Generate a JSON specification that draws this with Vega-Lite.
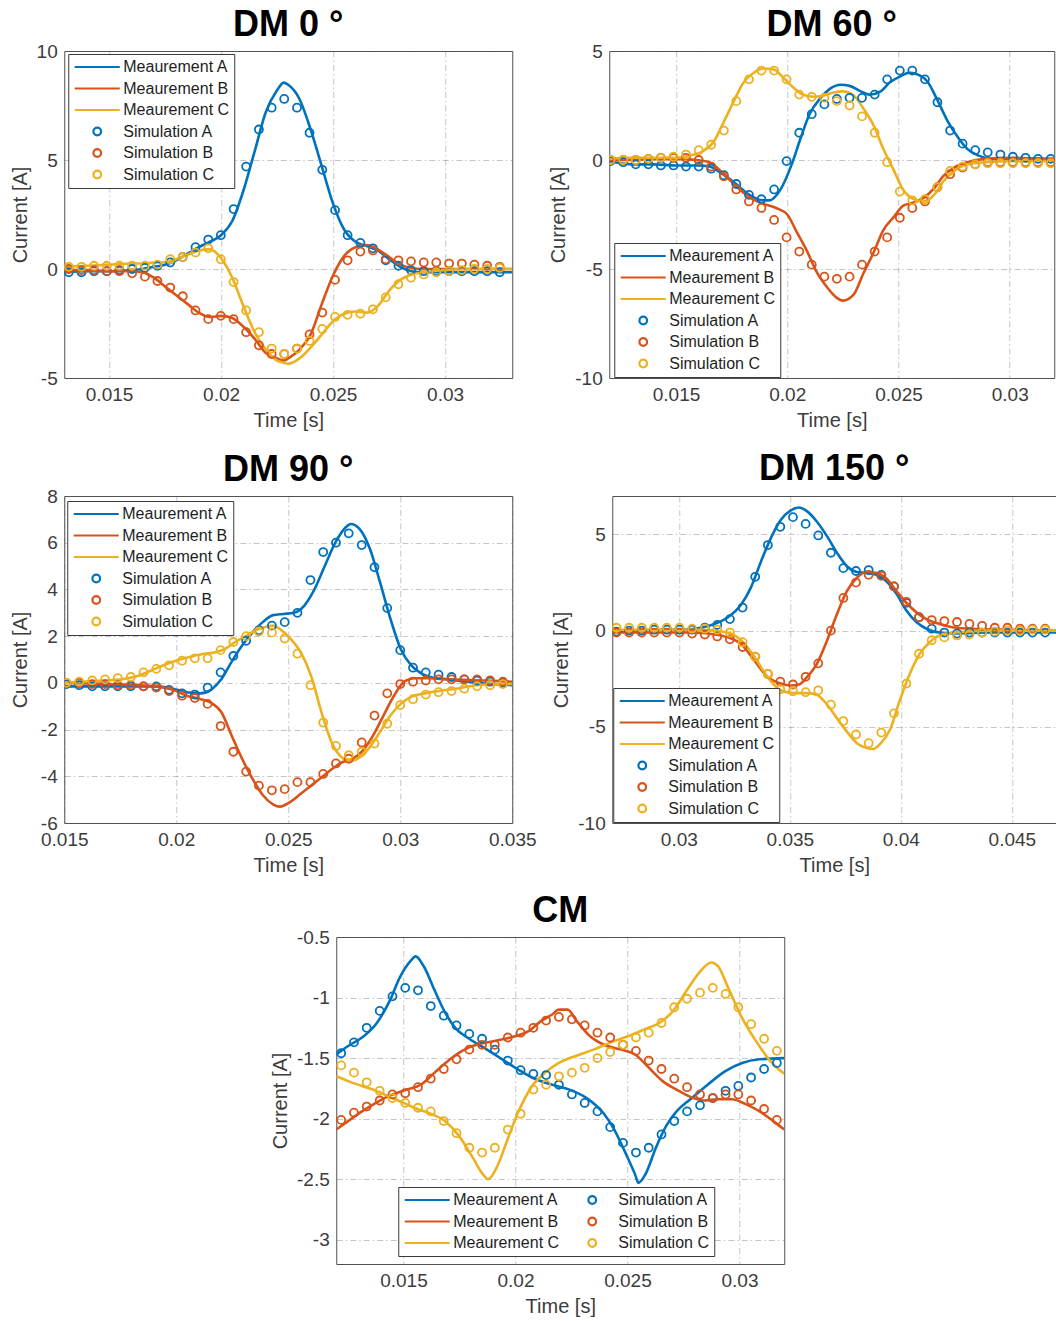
{
"$schema": "https://vega.github.io/schema/vega-lite/v6.json",
"background": "white",
"padding": {"left": 9, "top": 6, "right": 0, "bottom": 0},
"config": {
  "font": "Liberation Sans",
  "view": {"stroke": "#505050", "strokeWidth": 1},
  "axis": {"grid": true, "gridColor": "#5a5a5a", "gridOpacity": 0.35, "gridDash": [6,3,1.5,3], "gridWidth": 1,
    "domain": false, "ticks": false,
    "labelFont": "Liberation Sans", "labelFontSize": 19, "labelColor": "#3c3c3c", "labelPadding": 7,
    "labelFlush": false, "labelOverlap": false, "labelBound": false,
    "titleFont": "Liberation Sans", "titleFontSize": 20, "titleFontWeight": "normal", "titleColor": "#3c3c3c", "titlePadding": 6},
  "axisY": {"minExtent": 28},
  "title": {"font": "Liberation Sans", "fontSize": 36, "fontWeight": "bold", "color": "#000000", "anchor": "middle", "frame": "group", "offset": -2},
  "legend": {"labelFont": "Liberation Sans", "labelFontSize": 16, "labelColor": "#1e1e1e", "fillColor": "#ffffff", "strokeColor": "#3a3a3a", "padding": 5, "rowPadding": 5.5, "columnPadding": 9, "labelOffset": 2, "symbolSize": 2025, "symbolStrokeWidth": 2.2, "clipHeight": 16, "symbolOffset": 0}
},
"datasets": {
"m1": [
{"s":"MA","t":0.013,"v":-0.15},{"s":"MA","t":0.014,"v":-0.1},{"s":"MA","t":0.015,"v":-0.1},{"s":"MA","t":0.016,"v":-0.05},{"s":"MA","t":0.0165,"v":0},{"s":"MA","t":0.017,"v":0.1},{"s":"MA","t":0.0175,"v":0.2},{"s":"MA","t":0.018,"v":0.4},{"s":"MA","t":0.0185,"v":0.7},{"s":"MA","t":0.019,"v":1.0},{"s":"MA","t":0.0195,"v":1.25},{"s":"MA","t":0.02,"v":1.55},{"s":"MA","t":0.0205,"v":2.2},{"s":"MA","t":0.021,"v":3.6},{"s":"MA","t":0.0215,"v":5.4},{"s":"MA","t":0.022,"v":7.2},{"s":"MA","t":0.0225,"v":8.2},{"s":"MA","t":0.0228,"v":8.55},{"s":"MA","t":0.023,"v":8.45},{"s":"MA","t":0.0235,"v":7.8},{"s":"MA","t":0.024,"v":6.4},{"s":"MA","t":0.0245,"v":4.7},{"s":"MA","t":0.025,"v":3.0},{"s":"MA","t":0.0255,"v":1.8},{"s":"MA","t":0.026,"v":1.25},{"s":"MA","t":0.0265,"v":1.05},{"s":"MA","t":0.027,"v":0.85},{"s":"MA","t":0.0275,"v":0.45},{"s":"MA","t":0.028,"v":0.1},{"s":"MA","t":0.0285,"v":-0.1},{"s":"MA","t":0.029,"v":-0.15},{"s":"MA","t":0.03,"v":-0.15},{"s":"MA","t":0.031,"v":-0.15},{"s":"MA","t":0.032,"v":-0.15},{"s":"MA","t":0.033,"v":-0.15},
{"s":"MB","t":0.013,"v":-0.05},{"s":"MB","t":0.014,"v":-0.05},{"s":"MB","t":0.015,"v":-0.1},{"s":"MB","t":0.016,"v":-0.1},{"s":"MB","t":0.0165,"v":-0.15},{"s":"MB","t":0.017,"v":-0.4},{"s":"MB","t":0.0175,"v":-0.8},{"s":"MB","t":0.018,"v":-1.2},{"s":"MB","t":0.0185,"v":-1.6},{"s":"MB","t":0.019,"v":-2.0},{"s":"MB","t":0.0195,"v":-2.2},{"s":"MB","t":0.02,"v":-2.15},{"s":"MB","t":0.0205,"v":-2.25},{"s":"MB","t":0.021,"v":-2.65},{"s":"MB","t":0.0215,"v":-3.2},{"s":"MB","t":0.022,"v":-3.85},{"s":"MB","t":0.0225,"v":-4.1},{"s":"MB","t":0.0228,"v":-4.2},{"s":"MB","t":0.023,"v":-4.1},{"s":"MB","t":0.0235,"v":-3.7},{"s":"MB","t":0.024,"v":-3.0},{"s":"MB","t":0.0245,"v":-1.6},{"s":"MB","t":0.025,"v":-0.3},{"s":"MB","t":0.0255,"v":0.6},{"s":"MB","t":0.026,"v":1.0},{"s":"MB","t":0.0265,"v":1.1},{"s":"MB","t":0.027,"v":0.9},{"s":"MB","t":0.0275,"v":0.55},{"s":"MB","t":0.028,"v":0.2},{"s":"MB","t":0.0285,"v":0.05},{"s":"MB","t":0.029,"v":0},{"s":"MB","t":0.03,"v":0},{"s":"MB","t":0.031,"v":0},{"s":"MB","t":0.032,"v":0},{"s":"MB","t":0.033,"v":0},
{"s":"MC","t":0.013,"v":0.1},{"s":"MC","t":0.014,"v":0.15},{"s":"MC","t":0.015,"v":0.2},{"s":"MC","t":0.016,"v":0.25},{"s":"MC","t":0.0165,"v":0.25},{"s":"MC","t":0.017,"v":0.3},{"s":"MC","t":0.0175,"v":0.3},{"s":"MC","t":0.018,"v":0.45},{"s":"MC","t":0.0185,"v":0.65},{"s":"MC","t":0.019,"v":0.85},{"s":"MC","t":0.0195,"v":0.9},{"s":"MC","t":0.02,"v":0.5},{"s":"MC","t":0.0205,"v":-0.4},{"s":"MC","t":0.021,"v":-1.7},{"s":"MC","t":0.0215,"v":-2.9},{"s":"MC","t":0.022,"v":-3.7},{"s":"MC","t":0.0225,"v":-4.2},{"s":"MC","t":0.0228,"v":-4.3},{"s":"MC","t":0.023,"v":-4.35},{"s":"MC","t":0.0235,"v":-4.1},{"s":"MC","t":0.024,"v":-3.6},{"s":"MC","t":0.0245,"v":-3.0},{"s":"MC","t":0.025,"v":-2.4},{"s":"MC","t":0.0255,"v":-2.05},{"s":"MC","t":0.026,"v":-1.95},{"s":"MC","t":0.0265,"v":-2.0},{"s":"MC","t":0.027,"v":-1.7},{"s":"MC","t":0.0275,"v":-1.0},{"s":"MC","t":0.028,"v":-0.5},{"s":"MC","t":0.0285,"v":-0.25},{"s":"MC","t":0.029,"v":-0.15},{"s":"MC","t":0.03,"v":-0.05},{"s":"MC","t":0.031,"v":0},{"s":"MC","t":0.032,"v":0},{"s":"MC","t":0.033,"v":0}
],
"s1": [
{"s":"SA","t":0.0132,"v":-0.15},{"s":"SA","t":0.01377,"v":-0.15},{"s":"SA","t":0.01433,"v":-0.1},{"s":"SA","t":0.0149,"v":-0.1},{"s":"SA","t":0.01546,"v":-0.05},{"s":"SA","t":0.01603,"v":0},{"s":"SA","t":0.0166,"v":0.05},{"s":"SA","t":0.01716,"v":0.15},{"s":"SA","t":0.01773,"v":0.3},{"s":"SA","t":0.01829,"v":0.55},{"s":"SA","t":0.01886,"v":1.0},{"s":"SA","t":0.01943,"v":1.35},{"s":"SA","t":0.01999,"v":1.55},{"s":"SA","t":0.02056,"v":2.75},{"s":"SA","t":0.02112,"v":4.7},{"s":"SA","t":0.02169,"v":6.4},{"s":"SA","t":0.02226,"v":7.4},{"s":"SA","t":0.02282,"v":7.8},{"s":"SA","t":0.02339,"v":7.4},{"s":"SA","t":0.02395,"v":6.25},{"s":"SA","t":0.02452,"v":4.55},{"s":"SA","t":0.02509,"v":2.7},{"s":"SA","t":0.02565,"v":1.55},{"s":"SA","t":0.02622,"v":1.2},{"s":"SA","t":0.02678,"v":0.95},{"s":"SA","t":0.02735,"v":0.4},{"s":"SA","t":0.02792,"v":0.15},{"s":"SA","t":0.02848,"v":-0.05},{"s":"SA","t":0.02905,"v":-0.1},{"s":"SA","t":0.02961,"v":-0.1},{"s":"SA","t":0.03018,"v":-0.1},{"s":"SA","t":0.03075,"v":-0.1},{"s":"SA","t":0.03131,"v":-0.1},{"s":"SA","t":0.03188,"v":-0.1},{"s":"SA","t":0.03244,"v":-0.15},
{"s":"SB","t":0.0132,"v":0},{"s":"SB","t":0.01377,"v":-0.05},{"s":"SB","t":0.01433,"v":-0.05},{"s":"SB","t":0.0149,"v":-0.1},{"s":"SB","t":0.01546,"v":-0.1},{"s":"SB","t":0.01603,"v":-0.2},{"s":"SB","t":0.0166,"v":-0.35},{"s":"SB","t":0.01716,"v":-0.55},{"s":"SB","t":0.01773,"v":-0.85},{"s":"SB","t":0.01829,"v":-1.25},{"s":"SB","t":0.01886,"v":-1.9},{"s":"SB","t":0.01943,"v":-2.3},{"s":"SB","t":0.01999,"v":-2.15},{"s":"SB","t":0.02056,"v":-2.3},{"s":"SB","t":0.02112,"v":-2.9},{"s":"SB","t":0.02169,"v":-3.5},{"s":"SB","t":0.02226,"v":-3.9},{"s":"SB","t":0.02282,"v":-3.9},{"s":"SB","t":0.02339,"v":-3.65},{"s":"SB","t":0.02395,"v":-3.0},{"s":"SB","t":0.02452,"v":-2.0},{"s":"SB","t":0.02509,"v":-0.5},{"s":"SB","t":0.02565,"v":0.4},{"s":"SB","t":0.02622,"v":0.8},{"s":"SB","t":0.02678,"v":0.85},{"s":"SB","t":0.02735,"v":0.45},{"s":"SB","t":0.02792,"v":0.4},{"s":"SB","t":0.02848,"v":0.35},{"s":"SB","t":0.02905,"v":0.3},{"s":"SB","t":0.02961,"v":0.3},{"s":"SB","t":0.03018,"v":0.25},{"s":"SB","t":0.03075,"v":0.25},{"s":"SB","t":0.03131,"v":0.2},{"s":"SB","t":0.03188,"v":0.15},{"s":"SB","t":0.03244,"v":0.1},
{"s":"SC","t":0.0132,"v":0.1},{"s":"SC","t":0.01377,"v":0.1},{"s":"SC","t":0.01433,"v":0.15},{"s":"SC","t":0.0149,"v":0.15},{"s":"SC","t":0.01546,"v":0.15},{"s":"SC","t":0.01603,"v":0.15},{"s":"SC","t":0.0166,"v":0.15},{"s":"SC","t":0.01716,"v":0.2},{"s":"SC","t":0.01773,"v":0.45},{"s":"SC","t":0.01829,"v":0.55},{"s":"SC","t":0.01886,"v":0.75},{"s":"SC","t":0.01943,"v":0.95},{"s":"SC","t":0.01999,"v":0.45},{"s":"SC","t":0.02056,"v":-0.6},{"s":"SC","t":0.02112,"v":-1.9},{"s":"SC","t":0.02169,"v":-2.9},{"s":"SC","t":0.02226,"v":-3.65},{"s":"SC","t":0.02282,"v":-3.9},{"s":"SC","t":0.02339,"v":-3.65},{"s":"SC","t":0.02395,"v":-3.3},{"s":"SC","t":0.02452,"v":-2.75},{"s":"SC","t":0.02509,"v":-2.2},{"s":"SC","t":0.02565,"v":-2.1},{"s":"SC","t":0.02622,"v":-2.05},{"s":"SC","t":0.02678,"v":-1.85},{"s":"SC","t":0.02735,"v":-1.3},{"s":"SC","t":0.02792,"v":-0.7},{"s":"SC","t":0.02848,"v":-0.4},{"s":"SC","t":0.02905,"v":-0.25},{"s":"SC","t":0.02961,"v":-0.15},{"s":"SC","t":0.03018,"v":-0.1},{"s":"SC","t":0.03075,"v":-0.05},{"s":"SC","t":0.03131,"v":0},{"s":"SC","t":0.03188,"v":0},{"s":"SC","t":0.03244,"v":0.05}
],
"m2": [
{"s":"MA","t":0.012,"v":-0.05},{"s":"MA","t":0.013,"v":-0.2},{"s":"MA","t":0.014,"v":-0.2},{"s":"MA","t":0.015,"v":-0.25},{"s":"MA","t":0.016,"v":-0.25},{"s":"MA","t":0.0165,"v":-0.3},{"s":"MA","t":0.0171,"v":-0.65},{"s":"MA","t":0.0177,"v":-1.1},{"s":"MA","t":0.0183,"v":-1.6},{"s":"MA","t":0.0189,"v":-1.85},{"s":"MA","t":0.0192,"v":-1.85},{"s":"MA","t":0.0197,"v":-1.35},{"s":"MA","t":0.0202,"v":-0.2},{"s":"MA","t":0.0206,"v":1.0},{"s":"MA","t":0.021,"v":2.1},{"s":"MA","t":0.0215,"v":2.85},{"s":"MA","t":0.0219,"v":3.25},{"s":"MA","t":0.0224,"v":3.45},{"s":"MA","t":0.0228,"v":3.4},{"s":"MA","t":0.0233,"v":3.15},{"s":"MA","t":0.0237,"v":3.0},{"s":"MA","t":0.0242,"v":3.15},{"s":"MA","t":0.0246,"v":3.55},{"s":"MA","t":0.0251,"v":3.85},{"s":"MA","t":0.0255,"v":4.0},{"s":"MA","t":0.0258,"v":3.95},{"s":"MA","t":0.0263,"v":3.6},{"s":"MA","t":0.0267,"v":2.85},{"s":"MA","t":0.0272,"v":1.8},{"s":"MA","t":0.0277,"v":1.0},{"s":"MA","t":0.0281,"v":0.5},{"s":"MA","t":0.0286,"v":0.2},{"s":"MA","t":0.0292,"v":0.05},{"s":"MA","t":0.03,"v":0},{"s":"MA","t":0.031,"v":0},{"s":"MA","t":0.032,"v":0},
{"s":"MB","t":0.012,"v":0},{"s":"MB","t":0.013,"v":0},{"s":"MB","t":0.014,"v":0.05},{"s":"MB","t":0.015,"v":0.05},{"s":"MB","t":0.0159,"v":0},{"s":"MB","t":0.0165,"v":-0.1},{"s":"MB","t":0.0171,"v":-0.6},{"s":"MB","t":0.0177,"v":-1.2},{"s":"MB","t":0.0183,"v":-1.7},{"s":"MB","t":0.0189,"v":-2.0},{"s":"MB","t":0.0195,"v":-2.2},{"s":"MB","t":0.02,"v":-2.5},{"s":"MB","t":0.0204,"v":-3.25},{"s":"MB","t":0.0209,"v":-4.2},{"s":"MB","t":0.0213,"v":-5.1},{"s":"MB","t":0.0218,"v":-5.85},{"s":"MB","t":0.0222,"v":-6.3},{"s":"MB","t":0.0225,"v":-6.45},{"s":"MB","t":0.023,"v":-6.15},{"s":"MB","t":0.0234,"v":-5.25},{"s":"MB","t":0.0239,"v":-4.2},{"s":"MB","t":0.0243,"v":-3.25},{"s":"MB","t":0.0248,"v":-2.6},{"s":"MB","t":0.0252,"v":-2.1},{"s":"MB","t":0.0257,"v":-1.95},{"s":"MB","t":0.0261,"v":-1.75},{"s":"MB","t":0.0266,"v":-1.3},{"s":"MB","t":0.027,"v":-0.75},{"s":"MB","t":0.0275,"v":-0.35},{"s":"MB","t":0.0281,"v":-0.1},{"s":"MB","t":0.0289,"v":0.05},{"s":"MB","t":0.03,"v":0.1},{"s":"MB","t":0.032,"v":0.05},
{"s":"MC","t":0.012,"v":0.05},{"s":"MC","t":0.013,"v":0.1},{"s":"MC","t":0.014,"v":0.1},{"s":"MC","t":0.015,"v":0.1},{"s":"MC","t":0.0156,"v":0.2},{"s":"MC","t":0.0162,"v":0.4},{"s":"MC","t":0.0167,"v":0.85},{"s":"MC","t":0.0171,"v":1.65},{"s":"MC","t":0.0176,"v":2.7},{"s":"MC","t":0.018,"v":3.5},{"s":"MC","t":0.0185,"v":4.0},{"s":"MC","t":0.0189,"v":4.2},{"s":"MC","t":0.0194,"v":4.15},{"s":"MC","t":0.0198,"v":3.8},{"s":"MC","t":0.0203,"v":3.3},{"s":"MC","t":0.0207,"v":3.0},{"s":"MC","t":0.0212,"v":2.9},{"s":"MC","t":0.0216,"v":2.95},{"s":"MC","t":0.0221,"v":3.1},{"s":"MC","t":0.0225,"v":3.15},{"s":"MC","t":0.023,"v":2.95},{"s":"MC","t":0.0234,"v":2.4},{"s":"MC","t":0.0239,"v":1.55},{"s":"MC","t":0.0243,"v":0.55},{"s":"MC","t":0.0248,"v":-0.5},{"s":"MC","t":0.0252,"v":-1.35},{"s":"MC","t":0.0257,"v":-1.8},{"s":"MC","t":0.0261,"v":-1.9},{"s":"MC","t":0.0266,"v":-1.6},{"s":"MC","t":0.027,"v":-1.0},{"s":"MC","t":0.0275,"v":-0.5},{"s":"MC","t":0.0281,"v":-0.2},{"s":"MC","t":0.0289,"v":-0.1},{"s":"MC","t":0.03,"v":-0.05},{"s":"MC","t":0.032,"v":-0.05}
],
"s2": [
{"s":"SA","t":0.01206,"v":-0.05},{"s":"SA","t":0.01263,"v":-0.1},{"s":"SA","t":0.01319,"v":-0.2},{"s":"SA","t":0.01376,"v":-0.2},{"s":"SA","t":0.01432,"v":-0.25},{"s":"SA","t":0.01489,"v":-0.25},{"s":"SA","t":0.01545,"v":-0.3},{"s":"SA","t":0.01602,"v":-0.3},{"s":"SA","t":0.01658,"v":-0.4},{"s":"SA","t":0.01715,"v":-0.7},{"s":"SA","t":0.01771,"v":-1.1},{"s":"SA","t":0.01828,"v":-1.6},{"s":"SA","t":0.01884,"v":-1.8},{"s":"SA","t":0.01941,"v":-1.35},{"s":"SA","t":0.01997,"v":-0.05},{"s":"SA","t":0.02054,"v":1.25},{"s":"SA","t":0.0211,"v":2.1},{"s":"SA","t":0.02167,"v":2.55},{"s":"SA","t":0.02223,"v":2.8},{"s":"SA","t":0.0228,"v":2.85},{"s":"SA","t":0.02336,"v":2.85},{"s":"SA","t":0.02393,"v":3.0},{"s":"SA","t":0.02449,"v":3.7},{"s":"SA","t":0.02506,"v":4.1},{"s":"SA","t":0.02562,"v":4.1},{"s":"SA","t":0.02619,"v":3.7},{"s":"SA","t":0.02675,"v":2.65},{"s":"SA","t":0.02732,"v":1.35},{"s":"SA","t":0.02788,"v":0.75},{"s":"SA","t":0.02845,"v":0.45},{"s":"SA","t":0.02901,"v":0.35},{"s":"SA","t":0.02958,"v":0.25},{"s":"SA","t":0.03014,"v":0.15},{"s":"SA","t":0.03071,"v":0.1},{"s":"SA","t":0.03127,"v":0.05},{"s":"SA","t":0.03184,"v":0.05},
{"s":"SB","t":0.01206,"v":0},{"s":"SB","t":0.01263,"v":0},{"s":"SB","t":0.01319,"v":0},{"s":"SB","t":0.01376,"v":0.05},{"s":"SB","t":0.01432,"v":0.1},{"s":"SB","t":0.01489,"v":0.1},{"s":"SB","t":0.01545,"v":0.1},{"s":"SB","t":0.01602,"v":0},{"s":"SB","t":0.01658,"v":-0.3},{"s":"SB","t":0.01715,"v":-0.75},{"s":"SB","t":0.01771,"v":-1.35},{"s":"SB","t":0.01828,"v":-1.9},{"s":"SB","t":0.01884,"v":-2.2},{"s":"SB","t":0.01941,"v":-2.75},{"s":"SB","t":0.01997,"v":-3.55},{"s":"SB","t":0.02054,"v":-4.2},{"s":"SB","t":0.0211,"v":-4.8},{"s":"SB","t":0.02167,"v":-5.35},{"s":"SB","t":0.02223,"v":-5.45},{"s":"SB","t":0.0228,"v":-5.35},{"s":"SB","t":0.02336,"v":-4.8},{"s":"SB","t":0.02393,"v":-4.2},{"s":"SB","t":0.02449,"v":-3.55},{"s":"SB","t":0.02506,"v":-2.65},{"s":"SB","t":0.02562,"v":-2.2},{"s":"SB","t":0.02619,"v":-1.9},{"s":"SB","t":0.02675,"v":-1.25},{"s":"SB","t":0.02732,"v":-0.65},{"s":"SB","t":0.02788,"v":-0.35},{"s":"SB","t":0.02845,"v":-0.2},{"s":"SB","t":0.02901,"v":-0.1},{"s":"SB","t":0.02958,"v":-0.1},{"s":"SB","t":0.03014,"v":-0.1},{"s":"SB","t":0.03071,"v":-0.1},{"s":"SB","t":0.03127,"v":-0.1},{"s":"SB","t":0.03184,"v":-0.1},
{"s":"SC","t":0.01206,"v":0},{"s":"SC","t":0.01263,"v":0},{"s":"SC","t":0.01319,"v":0},{"s":"SC","t":0.01376,"v":0.05},{"s":"SC","t":0.01432,"v":0.1},{"s":"SC","t":0.01489,"v":0.15},{"s":"SC","t":0.01545,"v":0.25},{"s":"SC","t":0.01602,"v":0.45},{"s":"SC","t":0.01658,"v":0.7},{"s":"SC","t":0.01715,"v":1.35},{"s":"SC","t":0.01771,"v":2.7},{"s":"SC","t":0.01828,"v":3.7},{"s":"SC","t":0.01884,"v":4.1},{"s":"SC","t":0.01941,"v":4.1},{"s":"SC","t":0.01997,"v":3.7},{"s":"SC","t":0.02054,"v":3.0},{"s":"SC","t":0.0211,"v":2.9},{"s":"SC","t":0.02167,"v":2.85},{"s":"SC","t":0.02223,"v":2.7},{"s":"SC","t":0.0228,"v":2.5},{"s":"SC","t":0.02336,"v":2.0},{"s":"SC","t":0.02393,"v":1.25},{"s":"SC","t":0.02449,"v":-0.1},{"s":"SC","t":0.02506,"v":-1.45},{"s":"SC","t":0.02562,"v":-1.85},{"s":"SC","t":0.02619,"v":-1.8},{"s":"SC","t":0.02675,"v":-1.25},{"s":"SC","t":0.02732,"v":-0.5},{"s":"SC","t":0.02788,"v":-0.3},{"s":"SC","t":0.02845,"v":-0.2},{"s":"SC","t":0.02901,"v":-0.15},{"s":"SC","t":0.02958,"v":-0.15},{"s":"SC","t":0.03014,"v":-0.15},{"s":"SC","t":0.03071,"v":-0.15},{"s":"SC","t":0.03127,"v":-0.15},{"s":"SC","t":0.03184,"v":-0.15}
],
"m3": [
{"s":"MA","t":0.015,"v":-0.15},{"s":"MA","t":0.0168,"v":-0.15},{"s":"MA","t":0.0191,"v":-0.15},{"s":"MA","t":0.01985,"v":-0.25},{"s":"MA","t":0.02047,"v":-0.4},{"s":"MA","t":0.02109,"v":-0.45},{"s":"MA","t":0.02155,"v":-0.3},{"s":"MA","t":0.02201,"v":0.15},{"s":"MA","t":0.02247,"v":0.9},{"s":"MA","t":0.02294,"v":1.6},{"s":"MA","t":0.0234,"v":2.15},{"s":"MA","t":0.02386,"v":2.6},{"s":"MA","t":0.02432,"v":2.9},{"s":"MA","t":0.02478,"v":2.95},{"s":"MA","t":0.02525,"v":3.0},{"s":"MA","t":0.02571,"v":3.3},{"s":"MA","t":0.02617,"v":4.0},{"s":"MA","t":0.02663,"v":5.0},{"s":"MA","t":0.0271,"v":6.0},{"s":"MA","t":0.02756,"v":6.65},{"s":"MA","t":0.02779,"v":6.8},{"s":"MA","t":0.02817,"v":6.6},{"s":"MA","t":0.02864,"v":5.75},{"s":"MA","t":0.0291,"v":4.3},{"s":"MA","t":0.02956,"v":2.75},{"s":"MA","t":0.03002,"v":1.45},{"s":"MA","t":0.03049,"v":0.75},{"s":"MA","t":0.03095,"v":0.4},{"s":"MA","t":0.03156,"v":0.2},{"s":"MA","t":0.03218,"v":0.15},{"s":"MA","t":0.03295,"v":0.05},{"s":"MA","t":0.035,"v":-0.1},
{"s":"MB","t":0.015,"v":0},{"s":"MB","t":0.017,"v":-0.05},{"s":"MB","t":0.0191,"v":-0.15},{"s":"MB","t":0.01985,"v":-0.3},{"s":"MB","t":0.02047,"v":-0.55},{"s":"MB","t":0.02109,"v":-0.7},{"s":"MB","t":0.02155,"v":-0.85},{"s":"MB","t":0.02201,"v":-1.25},{"s":"MB","t":0.02247,"v":-2.25},{"s":"MB","t":0.02294,"v":-3.25},{"s":"MB","t":0.0234,"v":-4.1},{"s":"MB","t":0.02386,"v":-4.8},{"s":"MB","t":0.02432,"v":-5.2},{"s":"MB","t":0.02463,"v":-5.3},{"s":"MB","t":0.02509,"v":-5.1},{"s":"MB","t":0.02556,"v":-4.75},{"s":"MB","t":0.02602,"v":-4.4},{"s":"MB","t":0.02648,"v":-4.05},{"s":"MB","t":0.02694,"v":-3.7},{"s":"MB","t":0.0274,"v":-3.4},{"s":"MB","t":0.02787,"v":-3.25},{"s":"MB","t":0.02833,"v":-2.9},{"s":"MB","t":0.02879,"v":-2.25},{"s":"MB","t":0.02925,"v":-1.4},{"s":"MB","t":0.02972,"v":-0.55},{"s":"MB","t":0.03018,"v":0.05},{"s":"MB","t":0.03064,"v":0.2},{"s":"MB","t":0.03125,"v":0.2},{"s":"MB","t":0.03218,"v":0.15},{"s":"MB","t":0.03372,"v":0.1},{"s":"MB","t":0.035,"v":0.05},
{"s":"MC","t":0.015,"v":0},{"s":"MC","t":0.01677,"v":0.1},{"s":"MC","t":0.01754,"v":0.15},{"s":"MC","t":0.01831,"v":0.3},{"s":"MC","t":0.01893,"v":0.55},{"s":"MC","t":0.01954,"v":0.8},{"s":"MC","t":0.02016,"v":1.0},{"s":"MC","t":0.02078,"v":1.15},{"s":"MC","t":0.02124,"v":1.25},{"s":"MC","t":0.0217,"v":1.3},{"s":"MC","t":0.02217,"v":1.45},{"s":"MC","t":0.02263,"v":1.75},{"s":"MC","t":0.02309,"v":2.0},{"s":"MC","t":0.02355,"v":2.25},{"s":"MC","t":0.02402,"v":2.4},{"s":"MC","t":0.02432,"v":2.45},{"s":"MC","t":0.02463,"v":2.3},{"s":"MC","t":0.02509,"v":1.9},{"s":"MC","t":0.02556,"v":1.3},{"s":"MC","t":0.02602,"v":0.3},{"s":"MC","t":0.02648,"v":-1.25},{"s":"MC","t":0.02694,"v":-2.55},{"s":"MC","t":0.0274,"v":-3.2},{"s":"MC","t":0.02772,"v":-3.35},{"s":"MC","t":0.02817,"v":-3.2},{"s":"MC","t":0.02864,"v":-2.75},{"s":"MC","t":0.0291,"v":-2.1},{"s":"MC","t":0.02956,"v":-1.4},{"s":"MC","t":0.03002,"v":-0.9},{"s":"MC","t":0.03049,"v":-0.6},{"s":"MC","t":0.0311,"v":-0.45},{"s":"MC","t":0.03172,"v":-0.35},{"s":"MC","t":0.03249,"v":-0.25},{"s":"MC","t":0.03341,"v":-0.1},{"s":"MC","t":0.035,"v":-0.05}
],
"s3": [
{"s":"SA","t":0.0151,"v":-0.05},{"s":"SA","t":0.01567,"v":-0.1},{"s":"SA","t":0.01625,"v":-0.15},{"s":"SA","t":0.01682,"v":-0.15},{"s":"SA","t":0.01739,"v":-0.15},{"s":"SA","t":0.01797,"v":-0.15},{"s":"SA","t":0.01854,"v":-0.15},{"s":"SA","t":0.01911,"v":-0.15},{"s":"SA","t":0.01968,"v":-0.3},{"s":"SA","t":0.02026,"v":-0.45},{"s":"SA","t":0.02083,"v":-0.5},{"s":"SA","t":0.0214,"v":-0.2},{"s":"SA","t":0.02198,"v":0.45},{"s":"SA","t":0.02255,"v":1.15},{"s":"SA","t":0.02312,"v":1.8},{"s":"SA","t":0.02369,"v":2.25},{"s":"SA","t":0.02427,"v":2.45},{"s":"SA","t":0.02484,"v":2.6},{"s":"SA","t":0.02541,"v":3.0},{"s":"SA","t":0.02599,"v":4.4},{"s":"SA","t":0.02656,"v":5.6},{"s":"SA","t":0.02713,"v":6.0},{"s":"SA","t":0.0277,"v":6.4},{"s":"SA","t":0.02828,"v":5.9},{"s":"SA","t":0.02885,"v":4.95},{"s":"SA","t":0.02942,"v":3.2},{"s":"SA","t":0.03,"v":1.4},{"s":"SA","t":0.03057,"v":0.65},{"s":"SA","t":0.03114,"v":0.45},{"s":"SA","t":0.03171,"v":0.35},{"s":"SA","t":0.03229,"v":0.25},{"s":"SA","t":0.03286,"v":0.15},{"s":"SA","t":0.03343,"v":0.1},{"s":"SA","t":0.03401,"v":0.05},{"s":"SA","t":0.03458,"v":0},
{"s":"SB","t":0.0151,"v":0},{"s":"SB","t":0.01567,"v":0},{"s":"SB","t":0.01625,"v":-0.05},{"s":"SB","t":0.01682,"v":-0.05},{"s":"SB","t":0.01739,"v":-0.1},{"s":"SB","t":0.01797,"v":-0.1},{"s":"SB","t":0.01854,"v":-0.15},{"s":"SB","t":0.01911,"v":-0.2},{"s":"SB","t":0.01968,"v":-0.35},{"s":"SB","t":0.02026,"v":-0.55},{"s":"SB","t":0.02083,"v":-0.65},{"s":"SB","t":0.0214,"v":-0.9},{"s":"SB","t":0.02198,"v":-1.85},{"s":"SB","t":0.02255,"v":-2.95},{"s":"SB","t":0.02312,"v":-3.8},{"s":"SB","t":0.02369,"v":-4.4},{"s":"SB","t":0.02427,"v":-4.6},{"s":"SB","t":0.02484,"v":-4.55},{"s":"SB","t":0.02541,"v":-4.25},{"s":"SB","t":0.02599,"v":-4.25},{"s":"SB","t":0.02656,"v":-3.9},{"s":"SB","t":0.02713,"v":-3.45},{"s":"SB","t":0.0277,"v":-3.25},{"s":"SB","t":0.02828,"v":-2.55},{"s":"SB","t":0.02885,"v":-1.4},{"s":"SB","t":0.02942,"v":-0.45},{"s":"SB","t":0.03,"v":-0.05},{"s":"SB","t":0.03057,"v":0.05},{"s":"SB","t":0.03114,"v":0.1},{"s":"SB","t":0.03171,"v":0.15},{"s":"SB","t":0.03229,"v":0.15},{"s":"SB","t":0.03286,"v":0.15},{"s":"SB","t":0.03343,"v":0.15},{"s":"SB","t":0.03401,"v":0.1},{"s":"SB","t":0.03458,"v":0.05},
{"s":"SC","t":0.0151,"v":0},{"s":"SC","t":0.01567,"v":0.05},{"s":"SC","t":0.01625,"v":0.1},{"s":"SC","t":0.01682,"v":0.15},{"s":"SC","t":0.01739,"v":0.2},{"s":"SC","t":0.01797,"v":0.25},{"s":"SC","t":0.01854,"v":0.45},{"s":"SC","t":0.01911,"v":0.6},{"s":"SC","t":0.01968,"v":0.75},{"s":"SC","t":0.02026,"v":0.95},{"s":"SC","t":0.02083,"v":1.05},{"s":"SC","t":0.0214,"v":1.05},{"s":"SC","t":0.02198,"v":1.4},{"s":"SC","t":0.02255,"v":1.75},{"s":"SC","t":0.02312,"v":2.0},{"s":"SC","t":0.02369,"v":2.2},{"s":"SC","t":0.02427,"v":2.15},{"s":"SC","t":0.02484,"v":1.9},{"s":"SC","t":0.02541,"v":1.25},{"s":"SC","t":0.02599,"v":-0.1},{"s":"SC","t":0.02656,"v":-1.7},{"s":"SC","t":0.02713,"v":-2.7},{"s":"SC","t":0.0277,"v":-3.1},{"s":"SC","t":0.02828,"v":-2.95},{"s":"SC","t":0.02885,"v":-2.6},{"s":"SC","t":0.02942,"v":-1.75},{"s":"SC","t":0.03,"v":-0.95},{"s":"SC","t":0.03057,"v":-0.7},{"s":"SC","t":0.03114,"v":-0.5},{"s":"SC","t":0.03171,"v":-0.4},{"s":"SC","t":0.03229,"v":-0.35},{"s":"SC","t":0.03286,"v":-0.25},{"s":"SC","t":0.03343,"v":-0.15},{"s":"SC","t":0.03401,"v":-0.1},{"s":"SC","t":0.03458,"v":-0.05}
],
"m4": [
{"s":"MA","t":0.027,"v":-0.05},{"s":"MA","t":0.028,"v":0},{"s":"MA","t":0.029,"v":0.05},{"s":"MA","t":0.03,"v":0.05},{"s":"MA","t":0.03101,"v":0.15},{"s":"MA","t":0.03161,"v":0.35},{"s":"MA","t":0.03221,"v":0.7},{"s":"MA","t":0.0328,"v":1.35},{"s":"MA","t":0.03325,"v":2.25},{"s":"MA","t":0.0337,"v":3.6},{"s":"MA","t":0.03414,"v":4.8},{"s":"MA","t":0.03459,"v":5.75},{"s":"MA","t":0.03504,"v":6.25},{"s":"MA","t":0.03541,"v":6.4},{"s":"MA","t":0.03578,"v":6.2},{"s":"MA","t":0.03623,"v":5.65},{"s":"MA","t":0.03668,"v":4.9},{"s":"MA","t":0.03712,"v":4.05},{"s":"MA","t":0.03757,"v":3.35},{"s":"MA","t":0.03802,"v":3.05},{"s":"MA","t":0.03846,"v":3.0},{"s":"MA","t":0.03891,"v":2.9},{"s":"MA","t":0.03936,"v":2.55},{"s":"MA","t":0.03981,"v":1.9},{"s":"MA","t":0.04025,"v":1.05},{"s":"MA","t":0.0407,"v":0.45},{"s":"MA","t":0.04115,"v":0.1},{"s":"MA","t":0.04174,"v":-0.1},{"s":"MA","t":0.04249,"v":-0.15},{"s":"MA","t":0.04398,"v":-0.1},{"s":"MA","t":0.047,"v":-0.1},
{"s":"MB","t":0.027,"v":-0.1},{"s":"MB","t":0.029,"v":-0.1},{"s":"MB","t":0.0305,"v":-0.1},{"s":"MB","t":0.03131,"v":-0.15},{"s":"MB","t":0.03221,"v":-0.35},{"s":"MB","t":0.0328,"v":-0.7},{"s":"MB","t":0.0334,"v":-1.55},{"s":"MB","t":0.03399,"v":-2.4},{"s":"MB","t":0.03459,"v":-2.75},{"s":"MB","t":0.03504,"v":-2.85},{"s":"MB","t":0.03541,"v":-2.8},{"s":"MB","t":0.03578,"v":-2.4},{"s":"MB","t":0.03623,"v":-1.7},{"s":"MB","t":0.03668,"v":-0.5},{"s":"MB","t":0.03712,"v":0.85},{"s":"MB","t":0.03757,"v":2.05},{"s":"MB","t":0.03802,"v":2.75},{"s":"MB","t":0.03846,"v":3.05},{"s":"MB","t":0.03891,"v":3.0},{"s":"MB","t":0.03936,"v":2.7},{"s":"MB","t":0.03981,"v":2.05},{"s":"MB","t":0.04025,"v":1.45},{"s":"MB","t":0.0407,"v":0.95},{"s":"MB","t":0.04115,"v":0.6},{"s":"MB","t":0.04174,"v":0.35},{"s":"MB","t":0.04249,"v":0.15},{"s":"MB","t":0.04323,"v":0.1},{"s":"MB","t":0.04472,"v":0.05},{"s":"MB","t":0.047,"v":0},
{"s":"MC","t":0.027,"v":0.05},{"s":"MC","t":0.029,"v":0.05},{"s":"MC","t":0.031,"v":0.05},{"s":"MC","t":0.03221,"v":-0.1},{"s":"MC","t":0.0328,"v":-0.5},{"s":"MC","t":0.0334,"v":-1.35},{"s":"MC","t":0.03399,"v":-2.4},{"s":"MC","t":0.03459,"v":-3.1},{"s":"MC","t":0.03519,"v":-3.25},{"s":"MC","t":0.03578,"v":-3.25},{"s":"MC","t":0.03623,"v":-3.35},{"s":"MC","t":0.03668,"v":-3.85},{"s":"MC","t":0.03712,"v":-4.55},{"s":"MC","t":0.03757,"v":-5.25},{"s":"MC","t":0.03802,"v":-5.85},{"s":"MC","t":0.03846,"v":-6.1},{"s":"MC","t":0.03876,"v":-6.15},{"s":"MC","t":0.03906,"v":-5.9},{"s":"MC","t":0.03951,"v":-5.15},{"s":"MC","t":0.03996,"v":-3.6},{"s":"MC","t":0.0404,"v":-2.25},{"s":"MC","t":0.04085,"v":-1.2},{"s":"MC","t":0.0413,"v":-0.6},{"s":"MC","t":0.04174,"v":-0.25},{"s":"MC","t":0.04249,"v":-0.1},{"s":"MC","t":0.04398,"v":0},{"s":"MC","t":0.047,"v":0}
],
"s4": [
{"s":"SA","t":0.02719,"v":-0.05},{"s":"SA","t":0.02776,"v":0},{"s":"SA","t":0.02833,"v":0},{"s":"SA","t":0.02889,"v":0.05},{"s":"SA","t":0.02946,"v":0.05},{"s":"SA","t":0.03003,"v":0.05},{"s":"SA","t":0.0306,"v":0.05},{"s":"SA","t":0.03117,"v":0.15},{"s":"SA","t":0.03173,"v":0.3},{"s":"SA","t":0.0323,"v":0.6},{"s":"SA","t":0.03287,"v":1.2},{"s":"SA","t":0.03344,"v":2.8},{"s":"SA","t":0.03401,"v":4.45},{"s":"SA","t":0.03457,"v":5.4},{"s":"SA","t":0.03514,"v":5.9},{"s":"SA","t":0.03571,"v":5.55},{"s":"SA","t":0.03628,"v":4.95},{"s":"SA","t":0.03685,"v":4.05},{"s":"SA","t":0.03741,"v":3.25},{"s":"SA","t":0.03798,"v":3.1},{"s":"SA","t":0.03855,"v":3.15},{"s":"SA","t":0.03912,"v":2.9},{"s":"SA","t":0.03969,"v":2.3},{"s":"SA","t":0.04025,"v":1.45},{"s":"SA","t":0.04082,"v":0.7},{"s":"SA","t":0.04139,"v":0.1},{"s":"SA","t":0.04196,"v":-0.1},{"s":"SA","t":0.04253,"v":-0.15},{"s":"SA","t":0.04309,"v":-0.1},{"s":"SA","t":0.04366,"v":-0.1},{"s":"SA","t":0.04423,"v":-0.1},{"s":"SA","t":0.0448,"v":-0.1},{"s":"SA","t":0.04537,"v":-0.1},{"s":"SA","t":0.04593,"v":-0.1},{"s":"SA","t":0.0465,"v":-0.1},
{"s":"SB","t":0.02719,"v":-0.1},{"s":"SB","t":0.02776,"v":-0.1},{"s":"SB","t":0.02833,"v":-0.1},{"s":"SB","t":0.02889,"v":-0.1},{"s":"SB","t":0.02946,"v":-0.1},{"s":"SB","t":0.03003,"v":-0.1},{"s":"SB","t":0.0306,"v":-0.15},{"s":"SB","t":0.03117,"v":-0.2},{"s":"SB","t":0.03173,"v":-0.3},{"s":"SB","t":0.0323,"v":-0.45},{"s":"SB","t":0.03287,"v":-0.85},{"s":"SB","t":0.03344,"v":-1.35},{"s":"SB","t":0.03401,"v":-2.25},{"s":"SB","t":0.03457,"v":-2.65},{"s":"SB","t":0.03514,"v":-2.8},{"s":"SB","t":0.03571,"v":-2.4},{"s":"SB","t":0.03628,"v":-1.7},{"s":"SB","t":0.03685,"v":0},{"s":"SB","t":0.03741,"v":1.7},{"s":"SB","t":0.03798,"v":2.5},{"s":"SB","t":0.03855,"v":2.9},{"s":"SB","t":0.03912,"v":2.85},{"s":"SB","t":0.03969,"v":2.3},{"s":"SB","t":0.04025,"v":1.5},{"s":"SB","t":0.04082,"v":0.7},{"s":"SB","t":0.04139,"v":0.55},{"s":"SB","t":0.04196,"v":0.5},{"s":"SB","t":0.04253,"v":0.45},{"s":"SB","t":0.04309,"v":0.35},{"s":"SB","t":0.04366,"v":0.25},{"s":"SB","t":0.04423,"v":0.15},{"s":"SB","t":0.0448,"v":0.15},{"s":"SB","t":0.04537,"v":0.1},{"s":"SB","t":0.04593,"v":0.1},{"s":"SB","t":0.0465,"v":0.1},
{"s":"SC","t":0.02719,"v":0.15},{"s":"SC","t":0.02776,"v":0.15},{"s":"SC","t":0.02833,"v":0.15},{"s":"SC","t":0.02889,"v":0.15},{"s":"SC","t":0.02946,"v":0.15},{"s":"SC","t":0.03003,"v":0.15},{"s":"SC","t":0.0306,"v":0.1},{"s":"SC","t":0.03117,"v":0.1},{"s":"SC","t":0.03173,"v":0.05},{"s":"SC","t":0.0323,"v":-0.1},{"s":"SC","t":0.03287,"v":-0.6},{"s":"SC","t":0.03344,"v":-1.35},{"s":"SC","t":0.03401,"v":-2.25},{"s":"SC","t":0.03457,"v":-3.05},{"s":"SC","t":0.03514,"v":-3.15},{"s":"SC","t":0.03571,"v":-3.2},{"s":"SC","t":0.03628,"v":-3.1},{"s":"SC","t":0.03685,"v":-3.85},{"s":"SC","t":0.03741,"v":-4.7},{"s":"SC","t":0.03798,"v":-5.4},{"s":"SC","t":0.03855,"v":-5.85},{"s":"SC","t":0.03912,"v":-5.3},{"s":"SC","t":0.03969,"v":-4.3},{"s":"SC","t":0.04025,"v":-2.75},{"s":"SC","t":0.04082,"v":-1.2},{"s":"SC","t":0.04139,"v":-0.5},{"s":"SC","t":0.04196,"v":-0.35},{"s":"SC","t":0.04253,"v":-0.25},{"s":"SC","t":0.04309,"v":-0.2},{"s":"SC","t":0.04366,"v":-0.1},{"s":"SC","t":0.04423,"v":-0.05},{"s":"SC","t":0.0448,"v":0},{"s":"SC","t":0.04537,"v":0},{"s":"SC","t":0.04593,"v":0.05},{"s":"SC","t":0.0465,"v":0.05}
],
"m5": [
{"s":"MA","t":0.012,"v":-1.47},{"s":"MA","t":0.01253,"v":-1.4},{"s":"MA","t":0.01315,"v":-1.33},{"s":"MA","t":0.01377,"v":-1.22},{"s":"MA","t":0.01438,"v":-1.03},{"s":"MA","t":0.01485,"v":-0.83},{"s":"MA","t":0.01531,"v":-0.7},{"s":"MA","t":0.01554,"v":-0.66},{"s":"MA","t":0.01593,"v":-0.75},{"s":"MA","t":0.01639,"v":-0.94},{"s":"MA","t":0.01685,"v":-1.12},{"s":"MA","t":0.01731,"v":-1.25},{"s":"MA","t":0.01793,"v":-1.34},{"s":"MA","t":0.01855,"v":-1.41},{"s":"MA","t":0.01932,"v":-1.5},{"s":"MA","t":0.02009,"v":-1.59},{"s":"MA","t":0.02086,"v":-1.67},{"s":"MA","t":0.02164,"v":-1.72},{"s":"MA","t":0.02241,"v":-1.76},{"s":"MA","t":0.02318,"v":-1.83},{"s":"MA","t":0.02395,"v":-1.96},{"s":"MA","t":0.02441,"v":-2.09},{"s":"MA","t":0.02488,"v":-2.27},{"s":"MA","t":0.02534,"v":-2.46},{"s":"MA","t":0.02549,"v":-2.53},{"s":"MA","t":0.0258,"v":-2.46},{"s":"MA","t":0.02627,"v":-2.24},{"s":"MA","t":0.02673,"v":-2.06},{"s":"MA","t":0.02719,"v":-1.94},{"s":"MA","t":0.02781,"v":-1.84},{"s":"MA","t":0.02858,"v":-1.72},{"s":"MA","t":0.02935,"v":-1.61},{"s":"MA","t":0.03012,"v":-1.54},{"s":"MA","t":0.0309,"v":-1.51},{"s":"MA","t":0.032,"v":-1.5},
{"s":"MB","t":0.012,"v":-2.09},{"s":"MB","t":0.01253,"v":-2.02},{"s":"MB","t":0.01315,"v":-1.94},{"s":"MB","t":0.01377,"v":-1.87},{"s":"MB","t":0.01438,"v":-1.81},{"s":"MB","t":0.01515,"v":-1.76},{"s":"MB","t":0.01577,"v":-1.72},{"s":"MB","t":0.01639,"v":-1.62},{"s":"MB","t":0.01701,"v":-1.52},{"s":"MB","t":0.01762,"v":-1.44},{"s":"MB","t":0.01824,"v":-1.39},{"s":"MB","t":0.01901,"v":-1.36},{"s":"MB","t":0.01978,"v":-1.33},{"s":"MB","t":0.02056,"v":-1.28},{"s":"MB","t":0.02117,"v":-1.19},{"s":"MB","t":0.02164,"v":-1.14},{"s":"MB","t":0.02194,"v":-1.1},{"s":"MB","t":0.02233,"v":-1.1},{"s":"MB","t":0.02272,"v":-1.19},{"s":"MB","t":0.02333,"v":-1.32},{"s":"MB","t":0.02395,"v":-1.39},{"s":"MB","t":0.02472,"v":-1.43},{"s":"MB","t":0.02534,"v":-1.47},{"s":"MB","t":0.02596,"v":-1.58},{"s":"MB","t":0.02657,"v":-1.69},{"s":"MB","t":0.02719,"v":-1.76},{"s":"MB","t":0.02781,"v":-1.82},{"s":"MB","t":0.02843,"v":-1.85},{"s":"MB","t":0.02904,"v":-1.84},{"s":"MB","t":0.02966,"v":-1.84},{"s":"MB","t":0.03028,"v":-1.88},{"s":"MB","t":0.0309,"v":-1.94},{"s":"MB","t":0.03151,"v":-2.02},{"s":"MB","t":0.032,"v":-2.09},
{"s":"MC","t":0.012,"v":-1.65},{"s":"MC","t":0.01253,"v":-1.69},{"s":"MC","t":0.01315,"v":-1.73},{"s":"MC","t":0.01377,"v":-1.77},{"s":"MC","t":0.01438,"v":-1.82},{"s":"MC","t":0.015,"v":-1.87},{"s":"MC","t":0.01562,"v":-1.92},{"s":"MC","t":0.01623,"v":-1.96},{"s":"MC","t":0.01685,"v":-2.02},{"s":"MC","t":0.01747,"v":-2.14},{"s":"MC","t":0.01809,"v":-2.32},{"s":"MC","t":0.01855,"v":-2.46},{"s":"MC","t":0.01878,"v":-2.5},{"s":"MC","t":0.01917,"v":-2.4},{"s":"MC","t":0.01963,"v":-2.18},{"s":"MC","t":0.02009,"v":-1.96},{"s":"MC","t":0.02071,"v":-1.74},{"s":"MC","t":0.02133,"v":-1.62},{"s":"MC","t":0.02194,"v":-1.54},{"s":"MC","t":0.02272,"v":-1.48},{"s":"MC","t":0.02349,"v":-1.43},{"s":"MC","t":0.02426,"v":-1.37},{"s":"MC","t":0.02503,"v":-1.32},{"s":"MC","t":0.0258,"v":-1.26},{"s":"MC","t":0.02642,"v":-1.21},{"s":"MC","t":0.02704,"v":-1.11},{"s":"MC","t":0.02765,"v":-0.94},{"s":"MC","t":0.02827,"v":-0.78},{"s":"MC","t":0.02873,"v":-0.71},{"s":"MC","t":0.02904,"v":-0.74},{"s":"MC","t":0.0295,"v":-0.92},{"s":"MC","t":0.03012,"v":-1.17},{"s":"MC","t":0.03074,"v":-1.36},{"s":"MC","t":0.03136,"v":-1.52},{"s":"MC","t":0.032,"v":-1.63}
],
"s5": [
{"s":"SA","t":0.01222,"v":-1.46},{"s":"SA","t":0.01279,"v":-1.37},{"s":"SA","t":0.01336,"v":-1.25},{"s":"SA","t":0.01394,"v":-1.11},{"s":"SA","t":0.01451,"v":-0.99},{"s":"SA","t":0.01508,"v":-0.92},{"s":"SA","t":0.01565,"v":-0.94},{"s":"SA","t":0.01622,"v":-1.07},{"s":"SA","t":0.0168,"v":-1.15},{"s":"SA","t":0.01737,"v":-1.23},{"s":"SA","t":0.01794,"v":-1.3},{"s":"SA","t":0.01851,"v":-1.34},{"s":"SA","t":0.01908,"v":-1.43},{"s":"SA","t":0.01966,"v":-1.52},{"s":"SA","t":0.02023,"v":-1.6},{"s":"SA","t":0.0208,"v":-1.63},{"s":"SA","t":0.02137,"v":-1.64},{"s":"SA","t":0.02194,"v":-1.72},{"s":"SA","t":0.02252,"v":-1.8},{"s":"SA","t":0.02309,"v":-1.87},{"s":"SA","t":0.02366,"v":-1.94},{"s":"SA","t":0.02423,"v":-2.07},{"s":"SA","t":0.0248,"v":-2.2},{"s":"SA","t":0.02538,"v":-2.28},{"s":"SA","t":0.02595,"v":-2.24},{"s":"SA","t":0.02652,"v":-2.13},{"s":"SA","t":0.02709,"v":-2.02},{"s":"SA","t":0.02766,"v":-1.94},{"s":"SA","t":0.02824,"v":-1.89},{"s":"SA","t":0.02881,"v":-1.83},{"s":"SA","t":0.02938,"v":-1.77},{"s":"SA","t":0.02995,"v":-1.73},{"s":"SA","t":0.03052,"v":-1.66},{"s":"SA","t":0.0311,"v":-1.59},{"s":"SA","t":0.03167,"v":-1.54},
{"s":"SB","t":0.01222,"v":-2.01},{"s":"SB","t":0.01279,"v":-1.95},{"s":"SB","t":0.01336,"v":-1.9},{"s":"SB","t":0.01394,"v":-1.85},{"s":"SB","t":0.01451,"v":-1.8},{"s":"SB","t":0.01508,"v":-1.79},{"s":"SB","t":0.01565,"v":-1.74},{"s":"SB","t":0.01622,"v":-1.67},{"s":"SB","t":0.0168,"v":-1.59},{"s":"SB","t":0.01737,"v":-1.51},{"s":"SB","t":0.01794,"v":-1.43},{"s":"SB","t":0.01851,"v":-1.39},{"s":"SB","t":0.01908,"v":-1.39},{"s":"SB","t":0.01966,"v":-1.33},{"s":"SB","t":0.02023,"v":-1.29},{"s":"SB","t":0.0208,"v":-1.25},{"s":"SB","t":0.02137,"v":-1.19},{"s":"SB","t":0.02194,"v":-1.16},{"s":"SB","t":0.02252,"v":-1.18},{"s":"SB","t":0.02309,"v":-1.23},{"s":"SB","t":0.02366,"v":-1.29},{"s":"SB","t":0.02423,"v":-1.33},{"s":"SB","t":0.0248,"v":-1.39},{"s":"SB","t":0.02538,"v":-1.44},{"s":"SB","t":0.02595,"v":-1.52},{"s":"SB","t":0.02652,"v":-1.59},{"s":"SB","t":0.02709,"v":-1.67},{"s":"SB","t":0.02766,"v":-1.74},{"s":"SB","t":0.02824,"v":-1.8},{"s":"SB","t":0.02881,"v":-1.83},{"s":"SB","t":0.02938,"v":-1.8},{"s":"SB","t":0.02995,"v":-1.8},{"s":"SB","t":0.03052,"v":-1.85},{"s":"SB","t":0.0311,"v":-1.92},{"s":"SB","t":0.03167,"v":-2.01},
{"s":"SC","t":0.01222,"v":-1.56},{"s":"SC","t":0.01279,"v":-1.62},{"s":"SC","t":0.01336,"v":-1.7},{"s":"SC","t":0.01394,"v":-1.77},{"s":"SC","t":0.01451,"v":-1.83},{"s":"SC","t":0.01508,"v":-1.87},{"s":"SC","t":0.01565,"v":-1.91},{"s":"SC","t":0.01622,"v":-1.94},{"s":"SC","t":0.0168,"v":-2.02},{"s":"SC","t":0.01737,"v":-2.12},{"s":"SC","t":0.01794,"v":-2.24},{"s":"SC","t":0.01851,"v":-2.28},{"s":"SC","t":0.01908,"v":-2.24},{"s":"SC","t":0.01966,"v":-2.09},{"s":"SC","t":0.02023,"v":-1.96},{"s":"SC","t":0.0208,"v":-1.76},{"s":"SC","t":0.02137,"v":-1.72},{"s":"SC","t":0.02194,"v":-1.65},{"s":"SC","t":0.02252,"v":-1.62},{"s":"SC","t":0.02309,"v":-1.58},{"s":"SC","t":0.02366,"v":-1.5},{"s":"SC","t":0.02423,"v":-1.45},{"s":"SC","t":0.0248,"v":-1.39},{"s":"SC","t":0.02538,"v":-1.33},{"s":"SC","t":0.02595,"v":-1.29},{"s":"SC","t":0.02652,"v":-1.21},{"s":"SC","t":0.02709,"v":-1.08},{"s":"SC","t":0.02766,"v":-1.01},{"s":"SC","t":0.02824,"v":-0.96},{"s":"SC","t":0.02881,"v":-0.92},{"s":"SC","t":0.02938,"v":-0.97},{"s":"SC","t":0.02995,"v":-1.08},{"s":"SC","t":0.03052,"v":-1.22},{"s":"SC","t":0.0311,"v":-1.34},{"s":"SC","t":0.03167,"v":-1.44}
]
},
"vconcat": [
 {"vconcat": [
  {"hconcat": [
   {"width": 448, "height": 327, "title": {"text": "DM 0 °"},
    "layer": [
     {"data": {"name": "m1"}, "mark": {"type": "line", "strokeWidth": 2.6, "interpolate": "monotone", "clip": true},
      "encoding": {
       "x": {"field": "t", "type": "quantitative", "scale": {"domain": [0.013, 0.033], "nice": false, "zero": false}, "axis": {"title": "Time [s]", "values": [0.015, 0.02, 0.025, 0.03], "labelExpr": "'' + datum.value"}},
       "y": {"field": "v", "type": "quantitative", "scale": {"domain": [-5, 10], "nice": false, "zero": false}, "axis": {"title": "Current [A]", "values": [-5, 0, 5, 10], "labelExpr": "'' + datum.value"}},
       "color": {"field": "s", "type": "nominal", "scale": {"domain": ["MA","MB","MC","SA","SB","SC"], "range": ["#0072BD","#D95319","#EDB120","#0072BD","#D95319","#EDB120"]},
         "legend": {"title": null, "orient": "none", "legendX": 4, "legendY": 3, "columns": 1,
           "labelExpr": "(slice(datum.value,0,1)=='M' ? 'Meaurement ' : 'Simulation ') + slice(datum.value,1)",
           "encoding": {"symbols": {"shape": {"value": {"expr": "slice(datum.value,0,1)=='M' ? 'stroke' : 'M0.17,0A0.17,0.17,0,1,1,-0.17,0A0.17,0.17,0,1,1,0.17,0Z'"}}, "fill": {"value": "transparent"}, "strokeWidth": {"value": 2.2}, "opacity": {"value": 1}}}}}
      }},
     {"data": {"name": "s1"}, "mark": {"type": "point", "shape": "circle", "filled": false, "size": 64, "strokeWidth": 1.8, "opacity": 1, "clip": true},
      "encoding": {
       "x": {"field": "t", "type": "quantitative"},
       "y": {"field": "v", "type": "quantitative"},
       "color": {"field": "s", "type": "nominal", "scale": {"domain": ["MA","MB","MC","SA","SB","SC"], "range": ["#0072BD","#D95319","#EDB120","#0072BD","#D95319","#EDB120"]}}
      }}
    ]},
   {"width": 445, "height": 327, "title": {"text": "DM 60 °"},
    "layer": [
     {"data": {"name": "m2"}, "mark": {"type": "line", "strokeWidth": 2.6, "interpolate": "monotone", "clip": true},
      "encoding": {
       "x": {"field": "t", "type": "quantitative", "scale": {"domain": [0.012, 0.032], "nice": false, "zero": false}, "axis": {"title": "Time [s]", "values": [0.015, 0.02, 0.025, 0.03], "labelExpr": "'' + datum.value"}},
       "y": {"field": "v", "type": "quantitative", "scale": {"domain": [-10, 5], "nice": false, "zero": false}, "axis": {"title": "Current [A]", "values": [-10, -5, 0, 5], "labelExpr": "'' + datum.value"}},
       "color": {"field": "s", "type": "nominal", "scale": {"domain": ["MA","MB","MC","SA","SB","SC"], "range": ["#0072BD","#D95319","#EDB120","#0072BD","#D95319","#EDB120"]},
         "legend": {"title": null, "orient": "none", "legendX": 5, "legendY": 192, "columns": 1,
           "labelExpr": "(slice(datum.value,0,1)=='M' ? 'Meaurement ' : 'Simulation ') + slice(datum.value,1)",
           "encoding": {"symbols": {"shape": {"value": {"expr": "slice(datum.value,0,1)=='M' ? 'stroke' : 'M0.17,0A0.17,0.17,0,1,1,-0.17,0A0.17,0.17,0,1,1,0.17,0Z'"}}, "fill": {"value": "transparent"}, "strokeWidth": {"value": 2.2}, "opacity": {"value": 1}}}}}
      }},
     {"data": {"name": "s2"}, "mark": {"type": "point", "shape": "circle", "filled": false, "size": 64, "strokeWidth": 1.8, "opacity": 1, "clip": true},
      "encoding": {
       "x": {"field": "t", "type": "quantitative"},
       "y": {"field": "v", "type": "quantitative"},
       "color": {"field": "s", "type": "nominal", "scale": {"domain": ["MA","MB","MC","SA","SB","SC"], "range": ["#0072BD","#D95319","#EDB120","#0072BD","#D95319","#EDB120"]}}
      }}
    ]}
  ], "spacing": 35, "resolve": {"scale": {"color": "independent"}, "legend": {"color": "independent"}}},
  {"hconcat": [
   {"width": 448, "height": 327, "title": {"text": "DM 90 °"},
    "layer": [
     {"data": {"name": "m3"}, "mark": {"type": "line", "strokeWidth": 2.6, "interpolate": "monotone", "clip": true},
      "encoding": {
       "x": {"field": "t", "type": "quantitative", "scale": {"domain": [0.015, 0.035], "nice": false, "zero": false}, "axis": {"title": "Time [s]", "values": [0.015, 0.02, 0.025, 0.03, 0.035], "labelExpr": "'' + datum.value"}},
       "y": {"field": "v", "type": "quantitative", "scale": {"domain": [-6, 8], "nice": false, "zero": false}, "axis": {"title": "Current [A]", "values": [-6, -4, -2, 0, 2, 4, 6, 8], "labelExpr": "'' + datum.value"}},
       "color": {"field": "s", "type": "nominal", "scale": {"domain": ["MA","MB","MC","SA","SB","SC"], "range": ["#0072BD","#D95319","#EDB120","#0072BD","#D95319","#EDB120"]},
         "legend": {"title": null, "orient": "none", "legendX": 3, "legendY": 5, "columns": 1,
           "labelExpr": "(slice(datum.value,0,1)=='M' ? 'Meaurement ' : 'Simulation ') + slice(datum.value,1)",
           "encoding": {"symbols": {"shape": {"value": {"expr": "slice(datum.value,0,1)=='M' ? 'stroke' : 'M0.17,0A0.17,0.17,0,1,1,-0.17,0A0.17,0.17,0,1,1,0.17,0Z'"}}, "fill": {"value": "transparent"}, "strokeWidth": {"value": 2.2}, "opacity": {"value": 1}}}}}
      }},
     {"data": {"name": "s3"}, "mark": {"type": "point", "shape": "circle", "filled": false, "size": 64, "strokeWidth": 1.8, "opacity": 1, "clip": true},
      "encoding": {
       "x": {"field": "t", "type": "quantitative"},
       "y": {"field": "v", "type": "quantitative"},
       "color": {"field": "s", "type": "nominal", "scale": {"domain": ["MA","MB","MC","SA","SB","SC"], "range": ["#0072BD","#D95319","#EDB120","#0072BD","#D95319","#EDB120"]}}
      }}
    ]},
   {"width": 444, "height": 327, "title": {"text": "DM 150 °", "offset": 8},
    "layer": [
     {"data": {"name": "m4"}, "mark": {"type": "line", "strokeWidth": 2.6, "interpolate": "monotone", "clip": true},
      "encoding": {
       "x": {"field": "t", "type": "quantitative", "scale": {"domain": [0.027, 0.047], "nice": false, "zero": false}, "axis": {"title": "Time [s]", "values": [0.03, 0.035, 0.04, 0.045], "labelExpr": "'' + datum.value"}},
       "y": {"field": "v", "type": "quantitative", "scale": {"domain": [-10, 7], "nice": false, "zero": false}, "axis": {"title": "Current [A]", "values": [-10, -5, 0, 5], "labelExpr": "'' + datum.value"}},
       "color": {"field": "s", "type": "nominal", "scale": {"domain": ["MA","MB","MC","SA","SB","SC"], "range": ["#0072BD","#D95319","#EDB120","#0072BD","#D95319","#EDB120"]},
         "legend": {"title": null, "orient": "none", "legendX": 1, "legendY": 192, "columns": 1,
           "labelExpr": "(slice(datum.value,0,1)=='M' ? 'Meaurement ' : 'Simulation ') + slice(datum.value,1)",
           "encoding": {"symbols": {"shape": {"value": {"expr": "slice(datum.value,0,1)=='M' ? 'stroke' : 'M0.17,0A0.17,0.17,0,1,1,-0.17,0A0.17,0.17,0,1,1,0.17,0Z'"}}, "fill": {"value": "transparent"}, "strokeWidth": {"value": 2.2}, "opacity": {"value": 1}}}}}
      }},
     {"data": {"name": "s4"}, "mark": {"type": "point", "shape": "circle", "filled": false, "size": 64, "strokeWidth": 1.8, "opacity": 1, "clip": true},
      "encoding": {
       "x": {"field": "t", "type": "quantitative"},
       "y": {"field": "v", "type": "quantitative"},
       "color": {"field": "s", "type": "nominal", "scale": {"domain": ["MA","MB","MC","SA","SB","SC"], "range": ["#0072BD","#D95319","#EDB120","#0072BD","#D95319","#EDB120"]}}
      }}
    ]}
  ], "spacing": 14, "resolve": {"scale": {"color": "independent"}, "legend": {"color": "independent"}}}
 ], "spacing": 19, "resolve": {"scale": {"color": "independent"}, "legend": {"color": "independent"}}},
 {"width": 448, "height": 327, "title": {"text": "CM"},
  "layer": [
   {"data": {"name": "m5"}, "mark": {"type": "line", "strokeWidth": 2.6, "interpolate": "monotone", "clip": true},
    "encoding": {
     "x": {"field": "t", "type": "quantitative", "scale": {"domain": [0.012, 0.032], "nice": false, "zero": false}, "axis": {"title": "Time [s]", "values": [0.015, 0.02, 0.025, 0.03], "labelExpr": "'' + datum.value"}},
     "y": {"field": "v", "type": "quantitative", "scale": {"domain": [-3.2, -0.5], "nice": false, "zero": false}, "axis": {"title": "Current [A]", "values": [-3, -2.5, -2, -1.5, -1, -0.5], "labelExpr": "'' + datum.value"}},
     "color": {"field": "s", "type": "nominal", "scale": {"domain": ["MA","MB","MC","SA","SB","SC"], "range": ["#0072BD","#D95319","#EDB120","#0072BD","#D95319","#EDB120"]},
       "legend": {"title": null, "orient": "none", "legendX": 62, "legendY": 250, "columns": 2,
         "labelExpr": "(slice(datum.value,0,1)=='M' ? 'Meaurement ' : 'Simulation ') + slice(datum.value,1)",
         "encoding": {"symbols": {"shape": {"value": {"expr": "slice(datum.value,0,1)=='M' ? 'stroke' : 'M0.17,0A0.17,0.17,0,1,1,-0.17,0A0.17,0.17,0,1,1,0.17,0Z'"}}, "fill": {"value": "transparent"}, "strokeWidth": {"value": 2.2}, "opacity": {"value": 1}}}}}
    }},
   {"data": {"name": "s5"}, "mark": {"type": "point", "shape": "circle", "filled": false, "size": 64, "strokeWidth": 1.8, "opacity": 1, "clip": true},
    "encoding": {
     "x": {"field": "t", "type": "quantitative"},
     "y": {"field": "v", "type": "quantitative"},
     "color": {"field": "s", "type": "nominal", "scale": {"domain": ["MA","MB","MC","SA","SB","SC"], "range": ["#0072BD","#D95319","#EDB120","#0072BD","#D95319","#EDB120"]}}
    }}
  ]}
],
"spacing": 16,
"center": true,
"resolve": {"scale": {"color": "independent"}, "legend": {"color": "independent"}}
}
